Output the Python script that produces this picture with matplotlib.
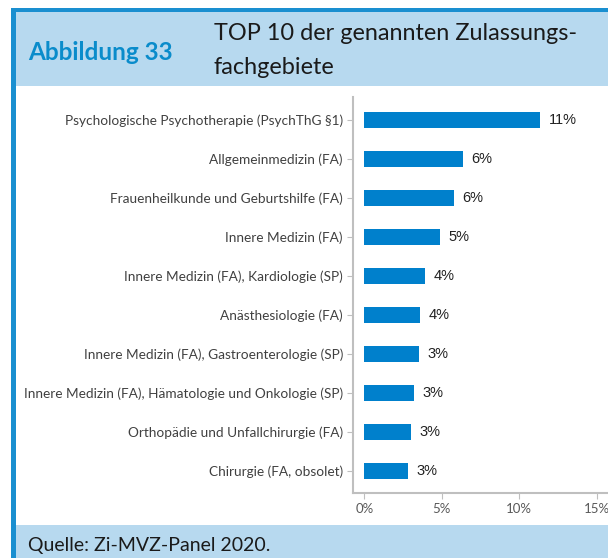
import matplotlib
matplotlib.use('Agg')
import matplotlib.pyplot as plt
from matplotlib.patches import Rectangle

W, H = 608, 558
DPI = 100

categories = [
    'Psychologische Psychotherapie (PsychThG §1)',
    'Allgemeinmedizin (FA)',
    'Frauenheilkunde und Geburtshilfe (FA)',
    'Innere Medizin (FA)',
    'Innere Medizin (FA), Kardiologie (SP)',
    'Anästhesiologie (FA)',
    'Innere Medizin (FA), Gastroenterologie (SP)',
    'Innere Medizin (FA), Hämatologie und Onkologie (SP)',
    'Orthopädie und Unfallchirurgie (FA)',
    'Chirurgie (FA, obsolet)',
]
values = [11.35, 6.36, 5.79, 4.89, 3.92, 3.60, 3.53, 3.21, 3.02, 2.82]
value_labels = ['11%', '6%', '6%', '5%', '4%', '4%', '3%', '3%', '3%', '3%']
xticks = [0, 5, 10, 15]
xtick_labels = ['0%', '5%', '10%', '15%']

BLUE = '#0080CC'
LIGHT = '#B7D9EF'
FRAME = '#1A8FD0'
HEAD = '#0A8CCB'
FONT = 'Lato'


def px(x0, y0, x1, y1):
    """Pixelbox (oben links Ursprung) -> Figure-Koordinaten"""
    return [x0 / W, 1 - y1 / H, (x1 - x0) / W, (y1 - y0) / H]


fig = plt.figure(figsize=(W / DPI, H / DPI), dpi=DPI)

# Hintergrund: Kopf, Fuss, Rahmen
def frect(x0, y0, x1, y1, color):
    l, b, w, h = px(x0, y0, x1, y1)
    fig.patches.append(Rectangle((l, b), w, h, transform=fig.transFigure,
                                 fc=color, ec='none', zorder=0))

frect(11, 12, W, 86, LIGHT)
frect(11, 525, W, H, LIGHT)
frect(11, 7.5, W, 12, FRAME)
frect(11, 7.5, 16, H, FRAME)

fig.text(28 / W, 1 - 52 / H, 'Abbildung 33', family=FONT, fontsize=17.5,
         fontweight='bold', color=HEAD, ha='left', va='center')
fig.text(214 / W, 1 - 33 / H, 'TOP 10 der genannten Zulassungs-', family=FONT,
         fontsize=16.9, color='#1a1a1a', ha='left', va='center')
fig.text(214 / W, 1 - 67 / H, 'fachgebiete', family=FONT,
         fontsize=16.9, color='#1a1a1a', ha='left', va='center')
fig.text(28 / W, 1 - 545 / H, 'Quelle: Zi-MVZ-Panel 2020.', family=FONT,
         fontsize=14, color='#1a1a1a', ha='left', va='center')

# Diagramm
ax = fig.add_axes(px(352.7, 97, 612, 493))
ypos = list(range(len(categories)))
ax.barh(ypos, values, height=0.41, color=BLUE, zorder=3)
for y, v, lbl in zip(ypos, values, value_labels):
    ax.text(v + 0.55, y, lbl, family='Liberation Sans', fontsize=10.5,
            color='#222222', ha='left', va='center')

ax.set_xlim(-0.75, 16.0)
ax.set_ylim(9.56, -0.59)
ax.set_yticks(ypos)
ax.set_yticklabels(categories, family=FONT, fontsize=9.8, color='#404040')
ax.set_xticks(xticks)
ax.set_xticklabels(xtick_labels, family=FONT, fontsize=9.5, color='#595959')
ax.tick_params(axis='y', length=4, color='#BFBFBF', pad=3)
ax.tick_params(axis='x', length=4, color='#BFBFBF', pad=3)
for s in ['top', 'right']:
    ax.spines[s].set_visible(False)
for s in ['left', 'bottom']:
    ax.spines[s].set_color('#BFBFBF')
    ax.spines[s].set_linewidth(1.5)
ax.set_facecolor('none')

fig.savefig('out.png', dpi=DPI)
